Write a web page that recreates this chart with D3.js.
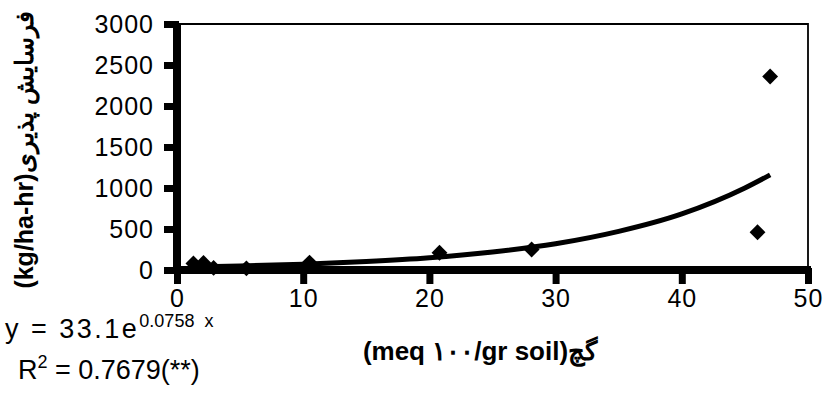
<!DOCTYPE html>
<meta charset="utf-8">
<head>
    <script src="https://d3js.org/d3.v7.min.js"></script>
    <style>
        body { margin: 0; background: #fff; }
        text { font-family: "Liberation Sans", Arial, sans-serif; fill: #000; }
    </style>
</head>
<body>
<svg id="chart" width="825" height="403"></svg>
<script>

    // measured points (gypsum vs erodibility)
    var gypsum = [1.3, 2.1, 2.9, 5.5, 10.5, 20.8, 28.1, 46.0, 47.0];
    var erodibility = [80, 85, 25, 20, 90, 210, 250, 460, 2360];

    // trend line
    var trendX = [1, 5, 10, 15, 20, 25, 30, 35, 40, 45, 47];
    var trendY = [36, 49, 71, 103, 149, 220, 320, 471, 684, 1000, 1160];

    var xTicks = [0, 10, 20, 30, 40, 50];
    var yTicks = [0, 500, 1000, 1500, 2000, 2500, 3000];

    var yLabel = "(kg/ha-hr)فرسایش پذیری";
    var xLabel = "(meq ۱۰۰/gr soil)گچ";

    var svg = d3.select("#chart");

    var x = d3.scaleLinear().domain([0, 50]).range([177, 808]);
    var y = d3.scaleLinear().domain([0, 3000]).range([270, 24]);

    // top + right frame (thin)
    svg.append("path")
        .attr("d", "M" + x(0) + "," + y(3000) + "H" + x(50) + "V" + y(0))
        .attr("fill", "none")
        .attr("stroke", "#000")
        .attr("stroke-width", 1.8);

    var yAxis = svg.append("g")
        .attr("transform", "translate(" + x(0) + ",0)")
        .call(d3.axisLeft(y).tickValues(yTicks).tickFormat(d3.format("d"))
            .tickSize(13).tickSizeOuter(0).tickPadding(10));

    var xAxis = svg.append("g")
        .attr("transform", "translate(0," + y(0) + ")")
        .call(d3.axisBottom(x).tickValues(xTicks).tickFormat(d3.format("d"))
            .tickSize(14).tickSizeOuter(0).tickPadding(5));

    [yAxis, xAxis].forEach(function(g){
        g.select(".domain").remove();
        g.selectAll(".tick line").attr("stroke", "#000").attr("stroke-width", 7);
        g.selectAll(".tick text")
            .style("font-size", "25px")
            .attr("letter-spacing", "1px")
            .attr("fill", "#000");
    });
    yAxis.selectAll(".tick line").attr("x1", 2);
    xAxis.selectAll(".tick line").attr("y1", -2);

    // heavy axis lines
    svg.append("line")
        .attr("x1", x(0)).attr("x2", x(0))
        .attr("y1", y(3000) - 1).attr("y2", y(0) + 3)
        .attr("stroke", "#000").attr("stroke-width", 8);
    svg.append("line")
        .attr("x1", x(0) - 4).attr("x2", x(50) + 3)
        .attr("y1", y(0)).attr("y2", y(0))
        .attr("stroke", "#000").attr("stroke-width", 8);

    // fitted curve
    var line = d3.line()
        .x(function(d){ return x(d[0]); })
        .y(function(d){ return y(d[1]); })
        .curve(d3.curveMonotoneX);

    svg.append("path")
        .datum(d3.zip(trendX, trendY))
        .attr("d", line)
        .attr("fill", "none")
        .attr("stroke", "#000")
        .attr("stroke-width", 5)
        .attr("stroke-linejoin", "round");

    // diamonds
    svg.selectAll(".pt")
        .data(d3.zip(gypsum, erodibility))
        .enter().append("path")
        .attr("class", "pt")
        .attr("transform", function(d){ return "translate(" + x(d[0]) + "," + y(d[1]) + ")"; })
        .attr("d", d3.symbol().type(d3.symbolDiamond2).size(160))
        .attr("fill", "#000");

    // axis titles
    svg.append("text")
        .attr("transform", "translate(33,150) rotate(-90)")
        .attr("text-anchor", "middle")
        .style("font-size", "25px")
        .style("font-weight", "bold")
        .text(yLabel);

    svg.append("text")
        .attr("x", 480)
        .attr("y", 360)
        .attr("text-anchor", "middle")
        .style("font-size", "26px")
        .style("font-weight", "bold")
        .text(xLabel);

    // equation
    var eq = svg.append("text")
        .attr("x", 5)
        .attr("y", 338)
        .style("white-space", "pre")
        .style("font-size", "27px");
    eq.append("tspan").attr("letter-spacing", "2.5px").text("y = 33.1e");
    eq.append("tspan").attr("dy", -11).style("font-size", "18px").text("0.0758  x");

    var r2 = svg.append("text")
        .attr("x", 18)
        .attr("y", 379)
        .style("white-space", "pre")
        .style("font-size", "27px");
    r2.append("tspan").text("R");
    r2.append("tspan").attr("dy", -11).style("font-size", "18px").text("2");
    r2.append("tspan").attr("dy", 11).text(" = 0.7679(**)");

</script>
</body>
